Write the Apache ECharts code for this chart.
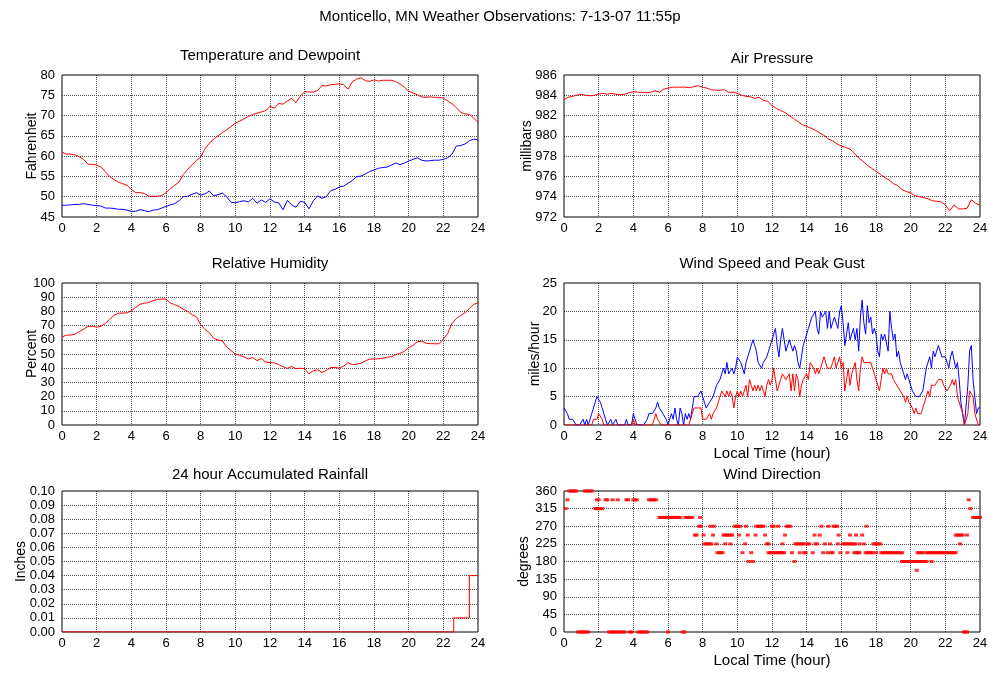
<!DOCTYPE html>
<html><head><meta charset="utf-8">
<script src="https://cdn.jsdelivr.net/npm/echarts@6/dist/echarts.min.js"></script>
<style>html,body{margin:0;padding:0;background:#fff}#c{width:1000px;height:680px}</style>
</head><body><div id="c"></div>
<script>
// ---------- DATA ----------
const mainTitle = 'Monticello, MN Weather Observations: 7-13-07 11:55p';
const hourTicks = [0,2,4,6,8,10,12,14,16,18,20,22,24];

// quarter-hour readings (0, 0.25, ... 24)
const temperatureF = [
 61.0,60.5,60.5,60.3, 59.8,59.2,58.0,58.0, 57.8,57.3,56.2,55.0, 54.2,53.6,53.2,52.8,
 51.8,51.0,51.0,50.8, 50.1,50.1,50.1,50.3, 51.0,52.0,52.8,53.6, 55.5,56.7,57.9,58.9,
 59.8,61.8,63.2,64.2, 65.0,65.8,66.5,67.3, 68.1,68.6,69.2,69.8, 70.3,70.6,70.9,71.2,
 72.3,71.8,73.0,72.8, 73.6,74.2,73.2,74.8, 75.9,75.8,75.8,76.2, 77.4,77.3,77.6,77.7,
 77.8,77.6,76.5,78.3, 79.0,79.3,78.6,78.4, 78.8,78.5,78.7,78.7, 78.7,78.4,77.8,77.0,
 76.0,75.6,75.1,74.6, 74.5,74.6,74.5,74.5, 74.3,73.6,72.9,72.0, 70.8,70.4,70.3,69.4,
 68.3];
const dewpointF = [
 47.9,47.9,48.0,48.1, 48.1,48.3,48.1,47.9, 47.8,47.7,47.2,47.2, 47.1,46.9,46.9,46.7,
 46.4,46.4,46.8,46.6, 46.3,46.7,46.8,47.2, 47.6,48.0,48.3,49.0, 50.0,50.1,50.6,51.0,
 50.4,50.7,51.4,50.2, 50.5,50.9,50.0,48.6, 48.5,48.8,49.0,48.7, 49.6,48.4,49.2,48.6,
 49.5,48.7,48.5,46.8, 49.1,48.0,47.4,48.9, 48.6,47.0,49.0,50.2, 49.6,50.0,51.5,51.8,
 52.4,52.6,53.3,54.0, 54.9,55.1,55.6,56.2, 56.6,57.0,57.2,57.3, 57.8,58.3,57.9,58.3,
 58.8,59.2,59.6,59.0, 58.8,58.9,59.0,59.0, 59.2,59.6,60.5,62.5, 62.6,63.0,63.8,64.2,
 64.0];
const pressureMb = [
 983.6,983.8,983.9,984.0, 984.1,984.0,983.95,984.0, 984.1,984.2,984.1,984.2, 984.1,984.05,984.1,984.25,
 984.35,984.3,984.3,984.25, 984.3,984.45,984.3,984.6, 984.7,984.8,984.8,984.8, 984.8,984.75,984.85,984.95,
 984.8,984.7,984.55,984.5, 984.5,984.55,984.3,984.3, 984.2,984.0,983.9,983.85, 983.7,983.8,983.5,983.4,
 983.0,982.7,982.5,982.3, 982.0,981.7,981.4,981.1, 980.95,980.75,980.55,980.3, 980.05,979.7,979.5,979.2,
 979.0,978.85,978.7,978.3, 977.8,977.5,977.1,976.8, 976.5,976.2,975.9,975.65, 975.3,975.1,974.7,974.5,
 974.4,974.1,974.0,973.9, 973.8,973.6,973.55,973.5, 973.2,972.6,973.2,972.8, 972.8,972.85,973.7,973.35,
 973.15];
const humidityPct = [
 62.0,63.3,63.3,64.0, 65.8,67.5,69.4,69.6, 68.9,69.6,71.5,74.5, 77.2,78.8,78.8,78.9,
 80.5,82.8,85.0,85.8, 86.2,87.6,88.4,88.7, 88.5,86.0,84.7,83.5, 81.5,80.0,77.6,76.3,
 70.6,67.3,64.9,61.0, 59.8,59.3,55.0,52.5, 49.9,49.0,48.0,46.5, 47.5,45.4,46.8,44.3,
 44.0,43.8,42.6,41.0, 39.8,41.3,39.6,40.0, 39.6,36.0,38.3,38.8, 37.0,38.4,40.5,40.5,
 40.0,41.5,43.8,42.5, 42.8,43.5,45.2,46.4, 46.5,46.6,47.0,47.8, 48.0,49.6,50.5,51.8,
 54.5,56.0,58.6,59.0, 57.6,57.3,57.2,57.2, 60.5,64.5,71.5,75.0, 77.2,79.0,82.0,85.0,
 86.0];

// six-minute readings (0, 0.1, ... 24)
const windGustMph = [
 3,3,2,1,1,1,1,0,0,0, 0,1,0,1,0,0,2,3,4,5, 5,4,3,3,1,0,0,1,0,0, 1,0,0,0,0,0,1,0,0,0,
 2,1,0,0,0,0,0,0,1,2, 2,2,2,3,4,3,3,2,2,1, 0,0,2,1,3,1,0,3,2,0, 2,1,2,1,3,5,5,5,5,6,
 5,4,3,3,4,4,5,6,7,7, 8,9,10,9,11,9,9,10,9,10, 12,12,11,11,9,11,12,13,14,15, 14,13,11,11,10,11,11,12,13,14,
 15,16,17,14,12,15,17,15,13,13, 15,14,13,14,13,11,10,12,14,15, 15,17,18,19,19,20,17,16,20,19, 19,20,17,20,17,18,19,19,17,20,
 21,18,14,16,18,15,16,17,15,17, 13,19,22,18,16,21,18,19,16,17, 16,13,12,16,15,16,16,13,20,17, 15,16,12,13,11,10,9,8,9,8,
 7,6,6,5,5,5,5,6,8,10, 11,12,10,13,12,12,14,13,12,12, 12,11,10,12,13,13,10,11,8,4, 2,0,0,7,13,14,8,5,2,3,
 3];
const windSpeedMph = [
 0,0,0,0,0,0,0,0,0,0, 0,0,0,0,0,0,0,1,1,1, 2,2,1,0,0,0,0,0,0,0, 0,0,0,0,0,0,0,0,0,0,
 1,0,0,0,0,0,0,0,0,0, 0,0,0,2,1,1,0,0,0,0, 0,0,0,0,0,0,0,0,0,0, 0,0,0,0,2,3,3,3,3,3,
 1,1,1,1,2,1,2,2,3,4, 5,6,6,5,6,5,6,5,3,5, 6,5,6,5,5,7,5,8,7,6, 7,6,7,6,7,7,5,7,8,7,
 8,10,8,6,6,8,9,9,8,8, 9,6,9,6,9,8,5,7,8,8, 9,8,11,11,10,9,10,9,10,10, 12,11,10,10,10,11,12,10,11,12,
 10,11,6,8,10,7,9,10,11,8, 6,10,12,11,11,11,11,11,10,9, 8,8,6,8,10,9,10,9,9,9, 8,8,7,7,6,6,5,4,5,4,
 4,3,2,3,2,2,2,3,4,5, 6,5,7,7,7,7,8,8,8,7, 7,6,6,7,8,7,8,5,5,3, 2,0,0,2,6,6,5,2,2,0,
 0];

// accumulated rain: hour at which each total starts
const rainHours = [0, 22.6, 23.5, 24];
const rainInches = [0, 0.01, 0.04, 0.04];

// wind direction observations, grouped by reported direction
const dirLevels = [0, 157.5, 180, 202.5, 225, 247.5, 270, 292.5, 315, 337.5, 360];
const dir0 = [0.8,0.9,1.0,1.1,1.2,1.3,1.4, 2.6,2.7,2.8,2.9,3.0,3.1,3.2,3.3,3.4,3.5, 3.8,3.9,
  4.3,4.4,4.5,4.6,4.7,4.8, 6.0, 6.85,6.95, 23.05,23.15,23.25];
const dir157 = [20.35];
const dir180 = [10.65,10.9, 13.3, 19.5,19.6,19.7,19.8,19.9,20.0,20.1,20.2,20.3,20.4,20.5,20.6,20.7,20.8,20.9, 21.2];
const dir202 = [8.85,8.95,9.05,9.15, 10.3, 10.8, 11.8,11.9,12.0,12.1,12.2,12.3,12.4,12.5,12.6,12.7,
  13.15,13.6,13.85,13.95,14.35,14.95,15.2,15.4,15.5,15.95,16.35, 16.75,16.85,16.95,17.05,
  17.4,17.5,17.6,17.7,17.8, 18.0, 18.3,18.4,18.5,18.6,18.7,18.8,18.9,19.0,19.1,19.2,19.3,19.4,19.5,
  20.4,20.5,20.6,20.7, 20.9,21.0,21.1,21.2,21.3,21.4,21.5,21.6,21.7,21.8,21.9,22.0,22.1,22.2,22.3,22.4,22.5,22.6];
const dir225 = [8.1,8.2,8.3,8.4,8.5,8.8, 9.3,9.6,10.45,11.7,11.8, 12.6, 13.35,13.45,13.55,13.65,13.75,13.85,
  14.05,14.15, 14.5,14.6, 15.05,15.35,15.8, 16.1,16.2,16.3,16.4,16.5,16.6,16.7,16.8, 17.05,17.3,
  17.85,17.95,18.05,18.15,18.25, 22.85];
const dir247 = [7.55,7.65,8.05,8.6, 9.2,9.3,9.4,9.5,9.6,9.7, 10.1,10.6,11.05,11.6, 12.75,14.45,14.75,15.85,
  16.5,16.85,17.2, 22.6,22.7,22.8,22.9,23.0,23.25];
const dir270 = [7.8,7.9,8.45,8.65, 9.85,9.95,10.05,10.15,10.5, 11.1,11.2,11.3,11.4,11.5, 12.0,12.1,12.35,
  12.85,12.95,13.05, 14.85,15.25,15.55,15.65,15.75,17.45];
const dir292 = [5.5,5.6,5.7,5.8,5.9,6.0,6.1,6.2,6.3,6.4,6.5,6.6,6.7, 7.0,7.1,7.2,7.3,7.4,7.85,
  23.6,23.7,23.8,23.9,24.0];
const dir315 = [0.1, 1.8,1.9,2.0,2.1,2.2, 23.45];
const dir337 = [0.2, 1.9,2.0, 2.4,2.5, 2.8, 3.1, 3.6,3.7, 4.0,4.1,4.2, 4.9,5.0,5.1,5.2,5.3, 23.35];
const dir360 = [0.3,0.4,0.5,0.6,0.7, 1.2,1.3,1.4,1.5,1.6];
const dirHoursByLevel = [dir0, dir157, dir180, dir202, dir225, dir247, dir270, dir292, dir315, dir337, dir360];

// ---------- CHART ----------
const FONT = '"Liberation Sans", Arial, Helvetica, sans-serif';
const quarterHours = temperatureF.map((_, i) => i / 4);
const tenthHours = windGustMph.map((_, i) => i / 10);
const pairs = (xs, ys) => xs.map((x, i) => [x, ys[i]]);

const RED = '#ff0000', BLUE = '#0000ff';
const gridDefs = [
  {left: 62, top: 75, width: 416, height: 142},
  {left: 564, top: 75, width: 416, height: 142},
  {left: 62, top: 283, width: 416, height: 142},
  {left: 564, top: 283, width: 416, height: 142},
  {left: 62, top: 491, width: 416, height: 141},
  {left: 564, top: 491, width: 416, height: 141}
];
const splitLine = {show: true, showMinLine: false, showMaxLine: false,
  lineStyle: {color: '#505050', width: 1, type: [1, 1]}};

function xAx(gi, name) {
  return {type: 'value', gridIndex: gi, min: 0, max: 24, interval: 2,
    name: name || '', nameLocation: 'middle', nameGap: 21, nameMoveOverlap: false,
    nameTextStyle: {fontFamily: FONT, fontSize: 15, color: '#000'},
    axisLine: {show: false}, axisTick: {show: false},
    axisLabel: {fontFamily: FONT, fontSize: 13, color: '#000', margin: 5},
    splitLine: splitLine};
}
function yAx(gi, min, max, interval, name, gap, fmt) {
  return {type: 'value', gridIndex: gi, min, max, interval,
    name, nameLocation: 'middle', nameGap: gap, nameMoveOverlap: false,
    nameTextStyle: {fontFamily: FONT, fontSize: 14, color: '#000'},
    axisLine: {show: false}, axisTick: {show: false},
    axisLabel: {fontFamily: FONT, fontSize: 13, color: '#000', margin: 7, formatter: fmt},
    splitLine: splitLine};
}
function line(gi, data, color, extra) {
  return Object.assign({type: 'line', xAxisIndex: gi, yAxisIndex: gi, data,
    showSymbol: false, symbol: 'none', lineStyle: {color, width: 1}, itemStyle: {color},
    silent: true, z: 3}, extra || {});
}

const chartTitles = [
  {text: mainTitle, x: 500, y: 17, size: 15},
  {text: 'Temperature and Dewpoint', x: 270, y: 56, size: 15},
  {text: 'Air Pressure', x: 772, y: 59, size: 15},
  {text: 'Relative Humidity', x: 270, y: 264, size: 15},
  {text: 'Wind Speed and Peak Gust', x: 772, y: 264, size: 15},
  {text: '24 hour Accumulated Rainfall', x: 270, y: 475, size: 15},
  {text: 'Wind Direction', x: 772, y: 475, size: 15}
];

const dirSeriesData = [];
dirLevels.forEach((lvl, k) => dirHoursByLevel[k].forEach(h => dirSeriesData.push([h, lvl])));

const option = {
  animation: false,
  backgroundColor: '#fff',
  graphic: chartTitles.map(t => ({type: 'text', x: t.x, y: t.y, silent: true,
    style: {text: t.text, font: t.size + 'px ' + FONT, fill: '#000', align: 'center', verticalAlign: 'middle'}})),
  grid: gridDefs.map(g => Object.assign({show: true, borderColor: '#000', borderWidth: 1,
    backgroundColor: 'rgba(0,0,0,0)', z: 1, containLabel: false}, g)),
  xAxis: [xAx(0), xAx(1), xAx(2), xAx(3, 'Local Time (hour)'), xAx(4), xAx(5, 'Local Time (hour)')],
  yAxis: [
    yAx(0, 45, 80, 5, 'Fahrenheit', 23),
    yAx(1, 972, 986, 2, 'millibars', 30),
    yAx(2, 0, 100, 10, 'Percent', 23),
    yAx(3, 0, 25, 5, 'miles/hour', 22),
    yAx(4, 0, 0.1, 0.01, 'Inches', 34, v => v.toFixed(2)),
    yAx(5, 0, 360, 45, 'degrees', 33)
  ],
  series: [
    line(0, pairs(quarterHours, temperatureF), RED),
    line(0, pairs(quarterHours, dewpointF), BLUE),
    line(1, pairs(quarterHours, pressureMb), RED),
    line(2, pairs(quarterHours, humidityPct), RED),
    line(3, pairs(tenthHours, windGustMph), BLUE),
    line(3, pairs(tenthHours, windSpeedMph), RED),
    line(4, pairs(rainHours, rainInches), RED, {step: 'end'}),
    {type: 'scatter', xAxisIndex: 5, yAxisIndex: 5, data: dirSeriesData, symbol: 'rect',
      symbolSize: [4, 3], itemStyle: {color: RED}, silent: true, z: 3}
  ]
};
const chart = echarts.init(document.getElementById('c'), null, {renderer: 'canvas'});
chart.setOption(option);
</script></body></html>
